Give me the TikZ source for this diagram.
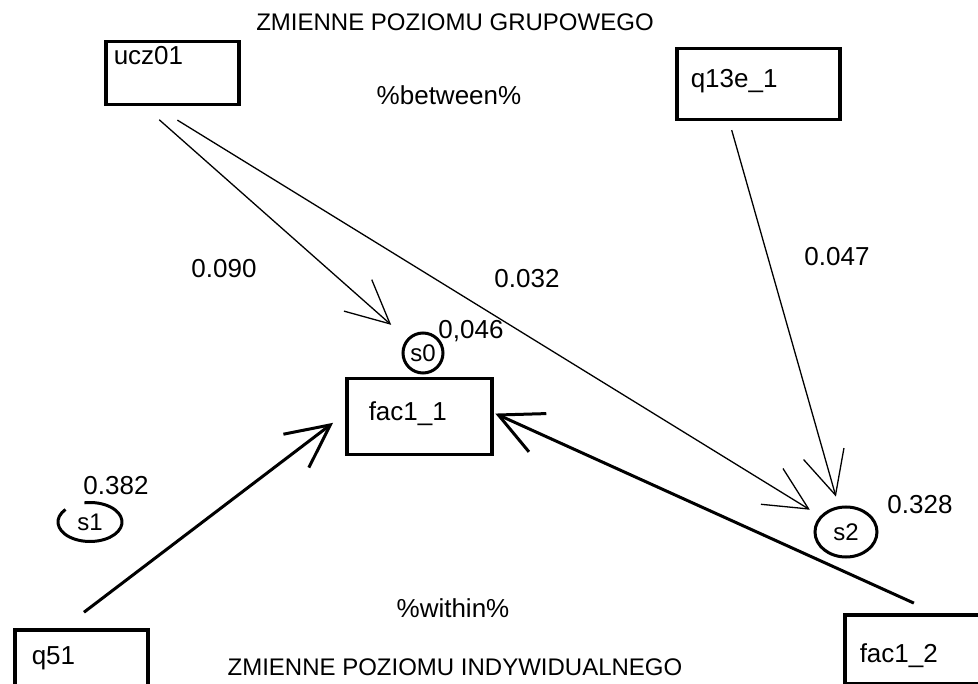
\documentclass[tikz,border=0pt]{standalone}
\usepackage{fontspec}
\setmainfont{Liberation Sans}
\usetikzlibrary{positioning,arrows.meta,shapes.geometric}
\tikzset{
>={Straight Barb[length=43pt,width=42pt]},
every node/.style={font=\fontsize{26}{30}\selectfont},
}

\begin{document}
\begin{tikzpicture}
    [x=1pt, y=-1pt,
    block/.style={draw, rectangle, line width=3.5pt, anchor=north west, inner ysep=0pt, align=left},
    resid/.style={line width=3pt, inner sep=0pt, font=\fontsize{24}{26}\selectfont},
    coef/.style={text depth=0pt, inner sep=0pt},
    heading/.style={coef, font=\fontsize{24}{28}\selectfont},
    between/.style={->, line width=1.3pt},
    within/.style={->, line width=3pt}
    ]

    \useasboundingbox (0,0) rectangle (978,684);
    \clip (0,0) rectangle (978,684);

    \node [heading] (top) at (455,22) {ZMIENNE POZIOMU GRUPOWEGO};
    \node [coef] (betw) at (449,95) {\%between\%};

    \node [block, inner xsep=8pt, text width=117pt, text height=23pt, text depth=40pt] (ucz01) at (104,40) {ucz01};

    \node [block, inner xsep=14pt, text width=135pt, text height=39pt, text depth=32pt] (q13e1) at (675,47) {q13e\_1};

    \node [block, inner xsep=22pt, text width=101pt, text height=42pt, text depth=34pt] (fac11) at (345,377) {fac1\_1};

    \node [block, inner xsep=17pt, text width=99pt, text height=35pt, text depth=45pt] (q51) at (13,628) {q51};

    \node [block, inner xsep=15pt, text width=120pt, text height=48pt, text depth=21pt] (fac12) at (843,613) {fac1\_2};

    \node [resid, circle, draw, minimum size=40pt] (s0) at (423,353) {s0};
    \node [resid, ellipse, minimum width=64pt, minimum height=39pt] (s1) at (90,522) {s1};
    \node [resid, ellipse, draw, minimum width=62pt, minimum height=50pt] (s2) at (846,532) {s2};
    \draw [line width=3pt] ([shift={(140:32pt and 19.5pt)}]s1.center)
        arc[start angle=140, end angle=460, x radius=32pt, y radius=19.5pt];

    \node [coef] (b1) at (224,268) {0.090};
    \node [coef] (b2) at (527,278) {0.032};
    \node [coef] (b3) at (837,256) {0.047};
    \node [coef] (r0) at (471,329) {0,046};
    \node [coef] (r1) at (116,485) {0.382};
    \node [coef] (r2) at (920,504) {0.328};

    \node [coef] (with) at (453,608) {\%within\%};
    \node [heading] (bottom) at (455,667) {ZMIENNE POZIOMU INDYWIDUALNEGO};

    \draw [between, shorten <=20pt, shorten >=21pt] ([xshift=-28pt]ucz01.south) -- (s0);
    \draw [between, shorten <=26pt, shorten >=12pt] ([xshift=-17pt]ucz01.south) -- (s2);
    \draw [between, shorten <=9pt, shorten >=10pt] ([xshift=-29pt]q13e1.south) -- (s2);
    \draw [within, shorten <=26pt, shorten >=15pt] ([xshift=-18pt]q51.north) -- ([yshift=3pt]fac11.west);
    \draw [within, shorten <=24pt, shorten >=2pt] ([xshift=16pt]fac12.north) -- ([yshift=4pt]fac11.east);

\end{tikzpicture}
\end{document}
